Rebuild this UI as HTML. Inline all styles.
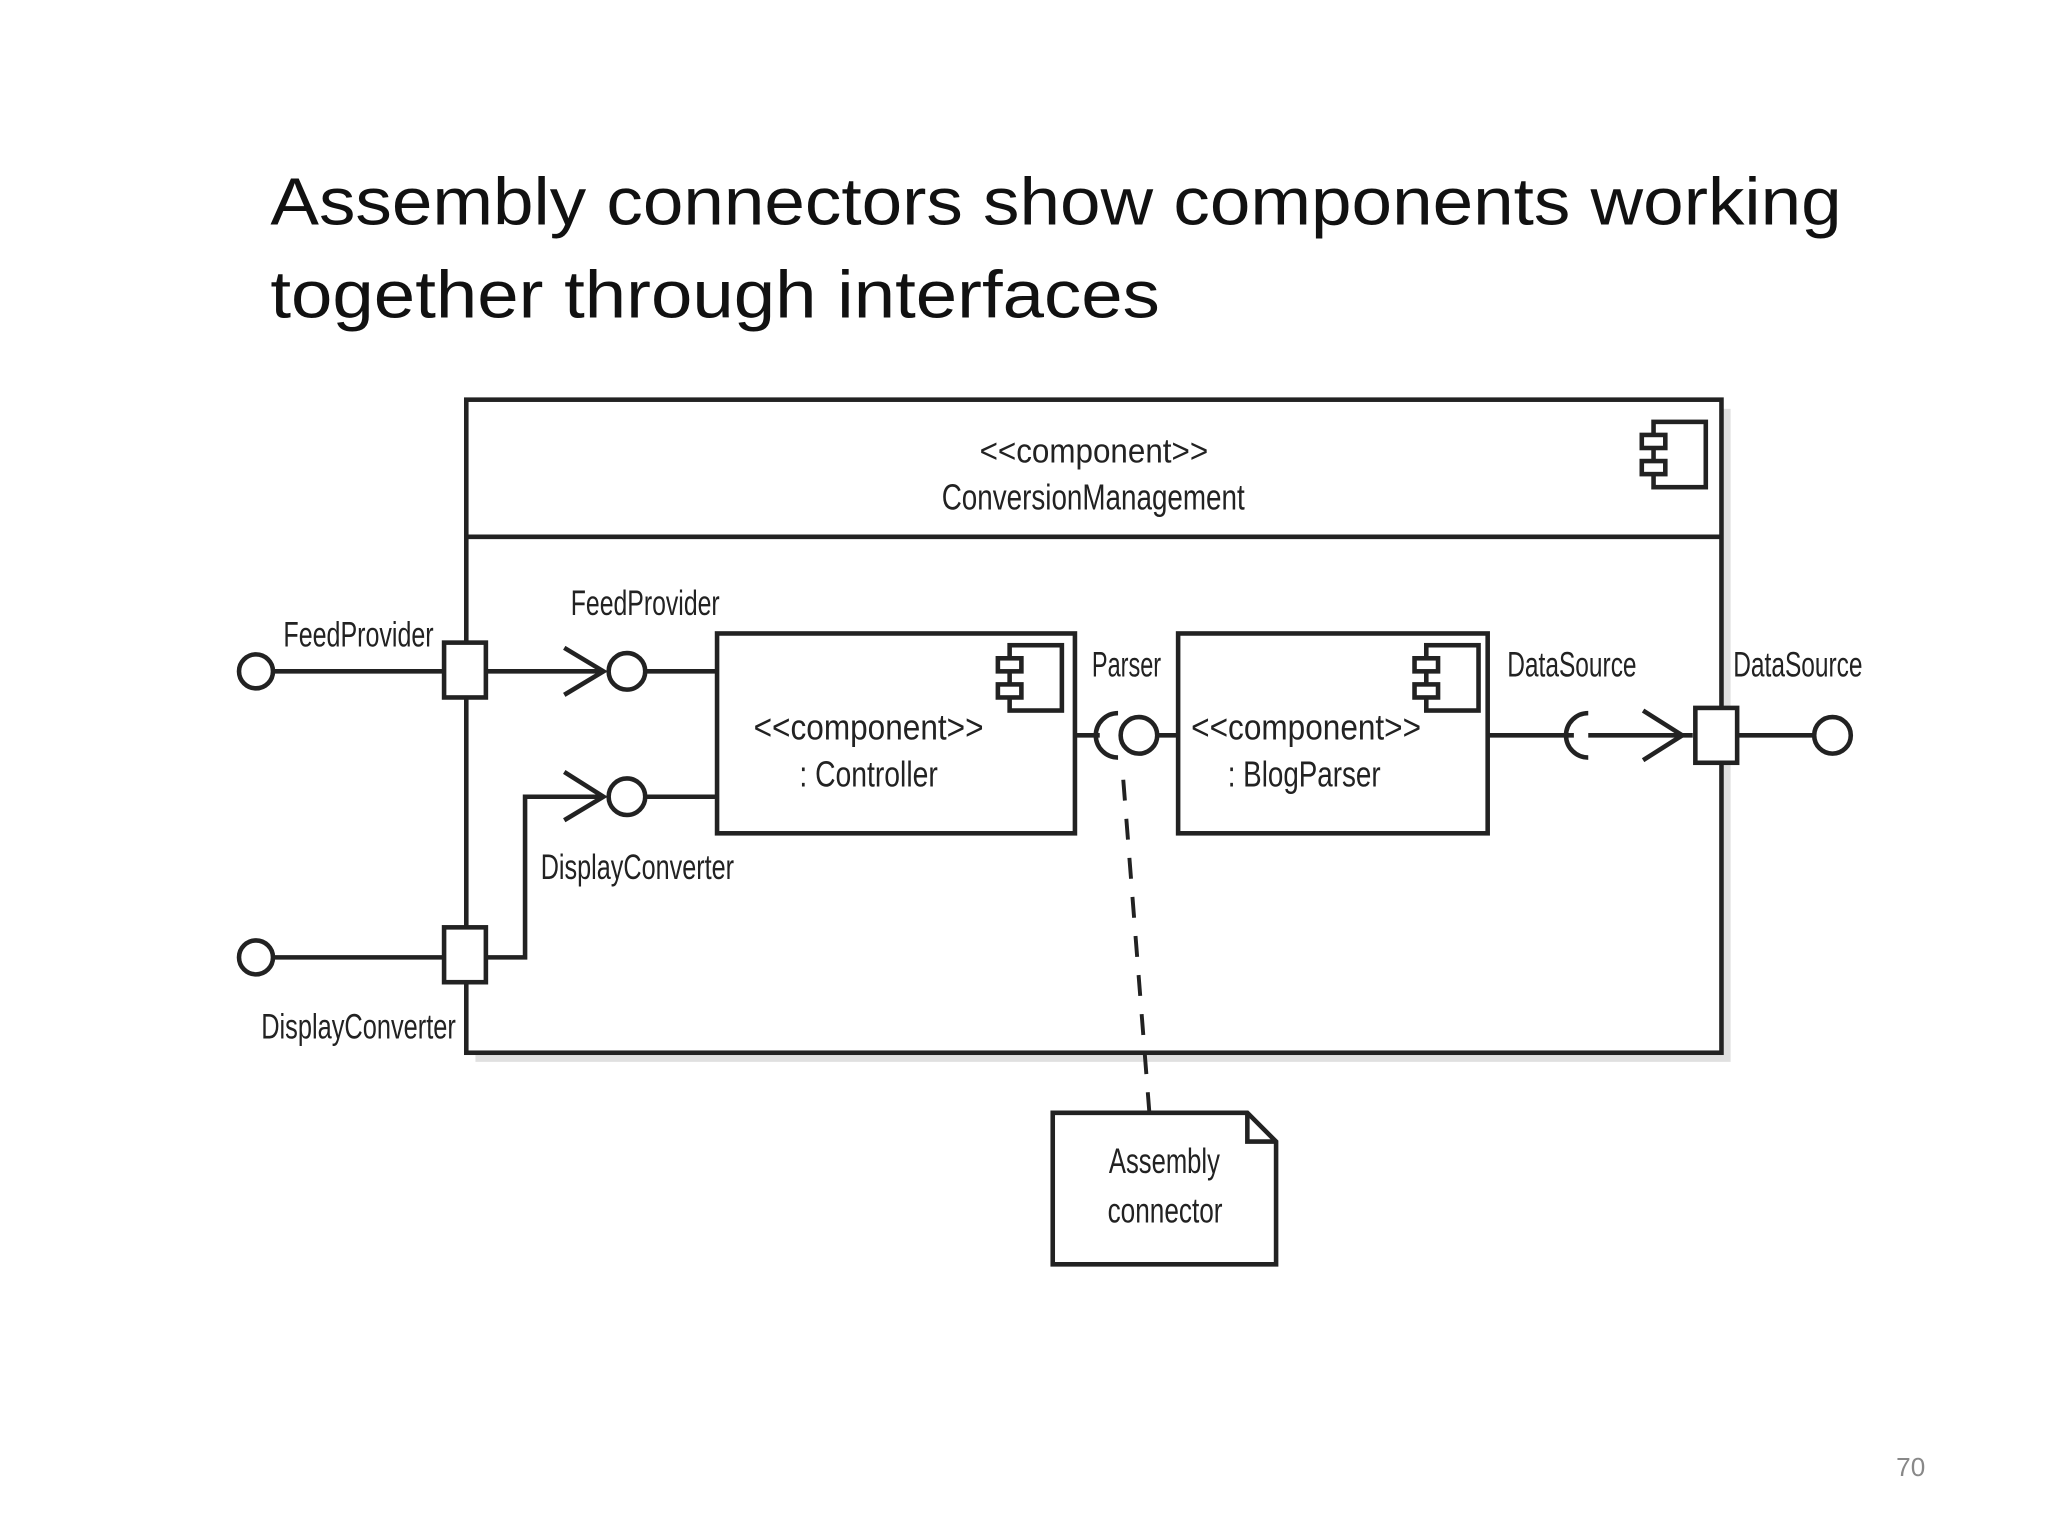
<!DOCTYPE html>
<html><head><meta charset="utf-8"><style>
html,body{margin:0;padding:0;background:#fff;width:2048px;height:1536px;overflow:hidden}
svg{display:block}
.t{font-family:"Liberation Sans",sans-serif;fill:#222}
</style></head><body>
<svg width="2048" height="1536" viewBox="0 0 1568 1176" xmlns="http://www.w3.org/2000/svg">
<text x="207" y="172" font-family="Liberation Sans, sans-serif" font-size="51" fill="#111" textLength="1203" lengthAdjust="spacingAndGlyphs">Assembly connectors show components working</text>
<text x="207" y="243" font-family="Liberation Sans, sans-serif" font-size="51" fill="#111" textLength="681" lengthAdjust="spacingAndGlyphs">together through interfaces</text>
<text x="1474" y="1130" font-family="Liberation Sans, sans-serif" font-size="20" fill="#888" text-anchor="end">70</text>
<g stroke="#222" stroke-width="3.5" fill="none">
<rect x="364" y="313" width="961" height="500" fill="#ccc" stroke="none" opacity="0.6"/>
<rect x="357" y="306" width="961" height="500" fill="#fff"/>
<line x1="357" y1="411" x2="1318" y2="411"/>
<rect x="1266" y="323" width="40" height="50" fill="#fff"/>
<rect x="1257" y="333" width="18" height="10" fill="#fff"/>
<rect x="1257" y="353" width="18" height="10" fill="#fff"/>
<rect x="549" y="485" width="274" height="153" fill="#fff"/>
<rect x="773" y="494" width="40" height="50" fill="#fff"/>
<rect x="764" y="504" width="18" height="10" fill="#fff"/>
<rect x="764" y="524" width="18" height="10" fill="#fff"/>
<rect x="902" y="485" width="237" height="153" fill="#fff"/>
<rect x="1092" y="494" width="40" height="50" fill="#fff"/>
<rect x="1083" y="504" width="18" height="10" fill="#fff"/>
<rect x="1083" y="524" width="18" height="10" fill="#fff"/>
<circle cx="196" cy="514" r="13" fill="#fff"/>
<line x1="209" y1="514" x2="340" y2="514"/>
<circle cx="196" cy="733" r="13" fill="#fff"/>
<line x1="209" y1="733" x2="340" y2="733"/>
<rect x="340" y="492" width="32" height="42" fill="#fff"/>
<rect x="340" y="710" width="32" height="42" fill="#fff"/>
<line x1="372" y1="514" x2="460" y2="514"/>
<polyline points="432,496 462,514 432,532"/>
<circle cx="480" cy="514" r="14" fill="#fff"/>
<line x1="494" y1="514" x2="549" y2="514"/>
<polyline points="372,733 402,733 402,610 460,610"/>
<polyline points="432,591 462,610 432,628"/>
<circle cx="480" cy="610" r="14" fill="#fff"/>
<line x1="494" y1="610" x2="549" y2="610"/>
<line x1="823" y1="563" x2="842" y2="563"/>
<path d="M856,546 A17,17 0 0 0 856,580"/>
<circle cx="872" cy="563" r="14" fill="#fff"/>
<line x1="886" y1="563" x2="902" y2="563"/>
<line x1="1139" y1="563" x2="1205" y2="563"/>
<path d="M1216,546 A17,17 0 0 0 1216,580"/>
<line x1="1216" y1="563" x2="1296" y2="563"/>
<polyline points="1258,544 1288,563 1258,582"/>
<rect x="1298" y="542" width="32" height="42" fill="#fff"/>
<line x1="1330" y1="563" x2="1389" y2="563"/>
<circle cx="1403" cy="563" r="14" fill="#fff"/>
<line x1="860" y1="597" x2="880" y2="852" stroke-dasharray="16,14" stroke-width="3"/>
<path d="M806,852 H955 L977,874 V968 H806 Z" fill="#fff"/>
<polyline points="955,852 955,874 977,874"/>
</g>
<g class="t" lengthAdjust="spacingAndGlyphs">
<text x="750" y="354" font-size="26" textLength="175" lengthAdjust="spacingAndGlyphs">&lt;&lt;component&gt;&gt;</text>
<text x="721" y="390" font-size="28" textLength="232" lengthAdjust="spacingAndGlyphs">ConversionManagement</text>
<text x="577" y="566" font-size="28" textLength="176" lengthAdjust="spacingAndGlyphs">&lt;&lt;component&gt;&gt;</text>
<text x="612" y="602" font-size="28" textLength="106" lengthAdjust="spacingAndGlyphs">: Controller</text>
<text x="912" y="566" font-size="28" textLength="176" lengthAdjust="spacingAndGlyphs">&lt;&lt;component&gt;&gt;</text>
<text x="940" y="602" font-size="28" textLength="117" lengthAdjust="spacingAndGlyphs">: BlogParser</text>
<text x="217" y="495" font-size="27" textLength="115" lengthAdjust="spacingAndGlyphs">FeedProvider</text>
<text x="437" y="471" font-size="27" textLength="114" lengthAdjust="spacingAndGlyphs">FeedProvider</text>
<text x="414" y="673" font-size="27" textLength="148" lengthAdjust="spacingAndGlyphs">DisplayConverter</text>
<text x="200" y="795" font-size="27" textLength="149" lengthAdjust="spacingAndGlyphs">DisplayConverter</text>
<text x="836" y="518" font-size="27" textLength="53" lengthAdjust="spacingAndGlyphs">Parser</text>
<text x="1154" y="518" font-size="27" textLength="99" lengthAdjust="spacingAndGlyphs">DataSource</text>
<text x="1327" y="518" font-size="27" textLength="99" lengthAdjust="spacingAndGlyphs">DataSource</text>
<text x="849" y="898" font-size="27" textLength="85" lengthAdjust="spacingAndGlyphs">Assembly</text>
<text x="848" y="936" font-size="27" textLength="88" lengthAdjust="spacingAndGlyphs">connector</text>
</g>
</svg>
</body></html>
